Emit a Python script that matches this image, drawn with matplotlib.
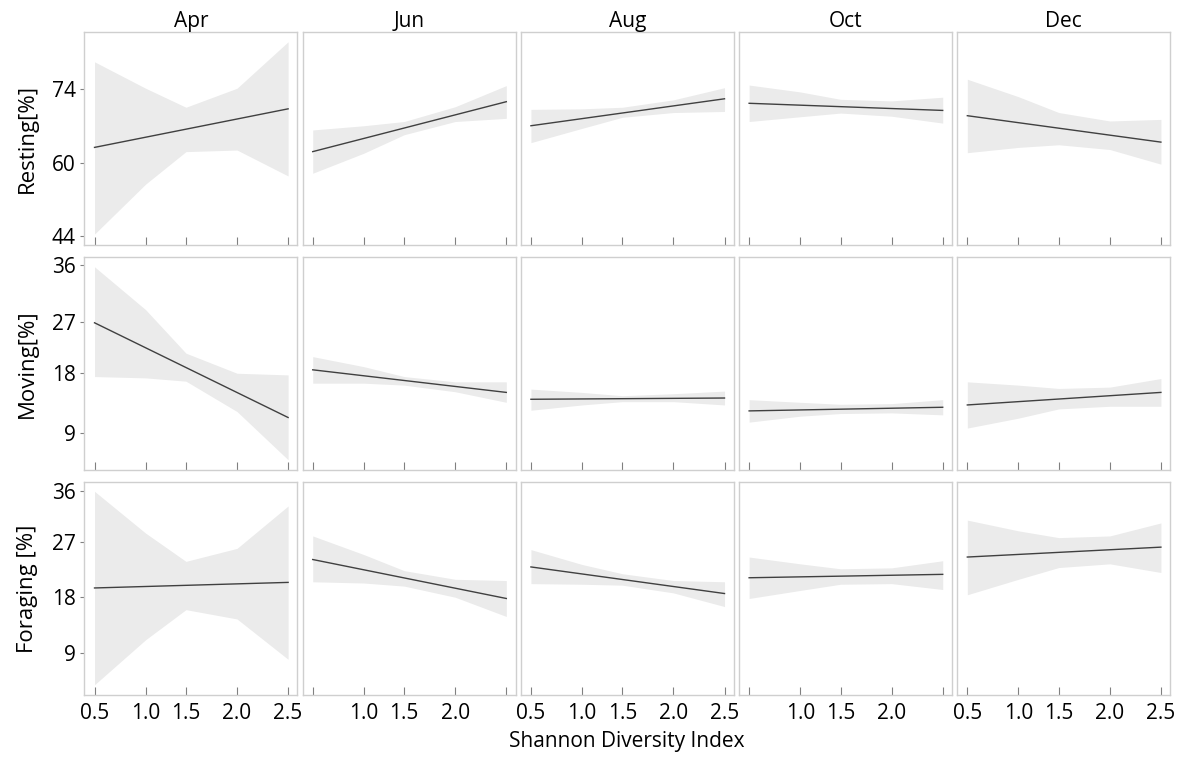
import numpy as np
import matplotlib
matplotlib.use("Agg")
from matplotlib import pyplot as plt

months = ['Apr', 'Jun', 'Aug', 'Oct', 'Dec']
behaviours = ['Resting[%]', 'Moving[%]', 'Foraging [%]']
shannon = [0.5, 1.0, 1.5, 2.0, 2.5]

# fitted line: value at 0.5 and at 2.5, one pair per month
resting_fit = [[63.0, 70.3], [62.2, 71.65], [67.1, 72.2], [71.35, 70.0], [69.0, 64.0]]
resting_hi = [[79.2, 74.2, 70.6, 74.2, 83.0], [66.3, 67.1, 67.9, 70.7, 74.7],
              [70.2, 70.3, 70.6, 72.0, 74.3], [74.8, 73.5, 72.1, 71.8, 72.5],
              [75.9, 72.6, 69.6, 68.0, 68.3]]
resting_lo = [[44.4, 55.4, 62.2, 62.5, 57.2], [57.8, 61.9, 65.4, 67.9, 68.5],
              [63.9, 66.6, 68.7, 69.6, 69.8], [67.9, 68.8, 69.5, 68.9, 67.6],
              [62.0, 63.0, 63.5, 62.6, 59.8]]

moving_fit = [[26.8, 11.3], [18.6, 15.1], [14.06, 14.25], [12.3, 12.85], [13.2, 15.1]]
moving_hi = [[35.7, 28.9, 21.5, 18.0, 17.75], [20.9, 19.15, 17.5, 16.7, 16.7],
             [15.6, 15.1, 14.6, 14.9, 15.3], [14.0, 13.6, 13.3, 13.4, 14.0],
             [16.7, 16.2, 15.7, 15.9, 17.2]]
moving_lo = [[17.5, 17.3, 16.8, 12.2, 4.9], [16.5, 16.5, 16.2, 15.2, 13.6],
             [12.4, 13.2, 13.7, 13.7, 13.2], [10.6, 11.5, 11.9, 12.0, 11.7],
             [9.7, 11.2, 12.6, 13.0, 13.0]]

foraging_fit = [[19.5, 20.4], [24.1, 17.8], [22.9, 18.6], [21.15, 21.7], [24.5, 26.1]]
foraging_hi = [[35.9, 28.5, 23.8, 25.9, 33.3], [28.0, 24.9, 22.3, 20.9, 20.7],
               [25.7, 23.3, 21.8, 20.7, 20.5], [24.5, 23.4, 22.6, 22.75, 23.9],
               [30.8, 28.9, 27.7, 28.0, 30.3]]
foraging_lo = [[3.9, 11.15, 16.0, 14.5, 8.0], [20.5, 20.3, 19.8, 18.0, 14.9],
               [20.2, 20.1, 19.95, 18.7, 16.5], [17.8, 19.1, 20.1, 20.2, 19.25],
               [18.4, 20.9, 22.8, 23.4, 22.0]]

y_ticks = [[44, 60, 74], [9, 18, 27, 36], [9, 18, 27, 36]]

fits = [resting_fit, moving_fit, foraging_fit]
his = [resting_hi, moving_hi, foraging_hi]
los = [resting_lo, moving_lo, foraging_lo]

# the axes in the original are not evenly spaced; rebuild them as piecewise scales
x_axis_pos = [0, 1, 1.79, 2.79, 3.79]
y_axis_pos = [[0, 72.7, 146.7], [0, 59.4, 111.0, 167.7], [0, 55.6, 111.0, 161.6]]
ylims = [(42.0, 84.9), (3.35, 37.3), (2.25, 37.6)]


def piecewise(vals, pos):
    vals = np.asarray(vals, float)
    pos = np.asarray(pos, float)

    def conv(v, a, b):
        v = np.asarray(v, float)
        out = np.interp(v, a, b)
        lo_s = (b[1] - b[0]) / (a[1] - a[0])
        hi_s = (b[-1] - b[-2]) / (a[-1] - a[-2])
        out = np.where(v < a[0], b[0] + (v - a[0]) * lo_s, out)
        out = np.where(v > a[-1], b[-1] + (v - a[-1]) * hi_s, out)
        return out

    return (lambda v: conv(v, vals, pos)), (lambda p: conv(p, pos, vals))


plt.rcParams['font.family'] = ['Open Sans', 'DejaVu Sans']

W, H = 1184, 758
fig = plt.figure(figsize=(W / 100, H / 100), dpi=100)

left0, pw, gapx = 84.3, 213.0, 5.2
top0, ph, gapy = 31.7, 213.3, 11.7
spine_c = '#cfcfcf'
fs = 15

for r in range(3):
    for c in range(5):
        x0 = left0 + c * (pw + gapx)
        y0 = top0 + r * (ph + gapy)
        ax = fig.add_axes([x0 / W, 1 - (y0 + ph) / H, pw / W, ph / H])
        ax.set_xscale('function', functions=piecewise(shannon, x_axis_pos))
        ax.set_yscale('function', functions=piecewise(y_ticks[r], y_axis_pos[r]))

        ax.fill_between(shannon, los[r][c], his[r][c], color='#ebebeb', lw=0)
        ax.plot([shannon[0], shannon[-1]], fits[r][c], color='#404040', lw=1.0)

        ax.set_xlim(0.40, 2.59)
        ax.set_ylim(*ylims[r])

        for s in ax.spines.values():
            s.set_color(spine_c)
            s.set_linewidth(1.0)

        ax.set_xticks(shannon)
        ax.xaxis.set_minor_locator(matplotlib.ticker.NullLocator())
        ax.yaxis.set_minor_locator(matplotlib.ticker.NullLocator())
        ax.tick_params(axis='x', direction='in', length=6, width=0.8, color='#808080',
                       labelsize=fs, pad=6)
        ax.tick_params(axis='y', direction='out', length=3, width=0.8, color='#808080',
                       labelsize=fs, pad=3)
        if r == 2:
            if c in (1, 3):
                ax.set_xticklabels(['', '1.0', '1.5', '2.0', ''])
            else:
                ax.set_xticklabels(['0.5', '1.0', '1.5', '2.0', '2.5'])
        else:
            ax.set_xticklabels([])

        ax.set_yticks(y_ticks[r])
        if c == 0:
            ax.set_yticklabels([str(v) for v in y_ticks[r]])
            ax.set_ylabel(behaviours[r], fontsize=16, labelpad=10)
        else:
            ax.tick_params(axis='y', left=False, labelleft=False)

        if r == 0:
            ax.set_title(months[c], fontsize=fs, pad=3)

fig.text((left0 + (5 * pw + 4 * gapx) / 2) / W, 1 - 742 / H, 'Shannon Diversity Index',
         ha='center', va='center', fontsize=fs)

fig.savefig('out.png', dpi=100)
